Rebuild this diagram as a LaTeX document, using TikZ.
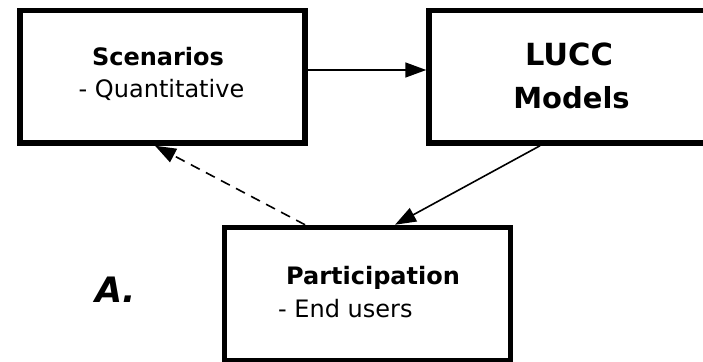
\documentclass[tikz,border=0pt]{standalone}
\usepackage{fontspec}
\setmainfont{DejaVu Sans}
\usetikzlibrary{arrows.meta}
\begin{document}
\begin{tikzpicture}[x=1pt,y=-1pt,
  box/.style={draw=black,line width=5.5pt,fill=white,inner sep=0pt},
  lbl/.style={inner sep=0pt,anchor=base},
  conn/.style={line width=1.6pt,-{Triangle[length=21pt,width=15pt]}},
  dashconn/.style={conn,dash pattern=on 10pt off 7pt}]
  \useasboundingbox (0,0) rectangle (703,361);
  \fill[white] (0,0) rectangle (703,361);

  % the three boxes
  \node[box,minimum width=285pt,minimum height=132.5pt] (scen) at (162.5,76.75) {};
  \node[box,minimum width=282pt,minimum height=132.5pt] (lucc) at (570,76.75) {};
  \node[box,minimum width=286pt,minimum height=133.5pt] (part) at (367.5,294.25) {};

  % box texts
  \node[lbl] (scenT) at (158,65) {\fontsize{24pt}{28pt}\selectfont\bfseries Scenarios};
  \node[lbl] (scenQ) at (161.5,97) {\fontsize{24pt}{28pt}\selectfont - Quantitative};
  \node[lbl] (luccT) at (569,65) {\fontsize{30.5pt}{34pt}\selectfont\bfseries LUCC};
  \node[lbl] (luccM) at (571.5,108) {\fontsize{29pt}{34pt}\selectfont\bfseries Models};
  \node[lbl] (partT) at (373,284) {\fontsize{24pt}{28pt}\selectfont\bfseries Participation};
  \node[lbl,anchor=base west] (partE) at (278,317) {\fontsize{24pt}{28pt}\selectfont - End users};
  \node[lbl,anchor=base west] (tagA) at (95,302) {\fontsize{35pt}{40pt}\selectfont\bfseries\itshape A.};

  % connectors
  \draw[conn] ([yshift=6.75pt]scen.east) -- ([yshift=6.75pt]lucc.west);
  \draw[conn] ([xshift=-30pt]lucc.south) -- ([xshift=27.5pt]part.north);
  \draw[dashconn] ([xshift=-62.5pt]part.north) -- ([xshift=-7.5pt]scen.south);
\end{tikzpicture}
\end{document}
